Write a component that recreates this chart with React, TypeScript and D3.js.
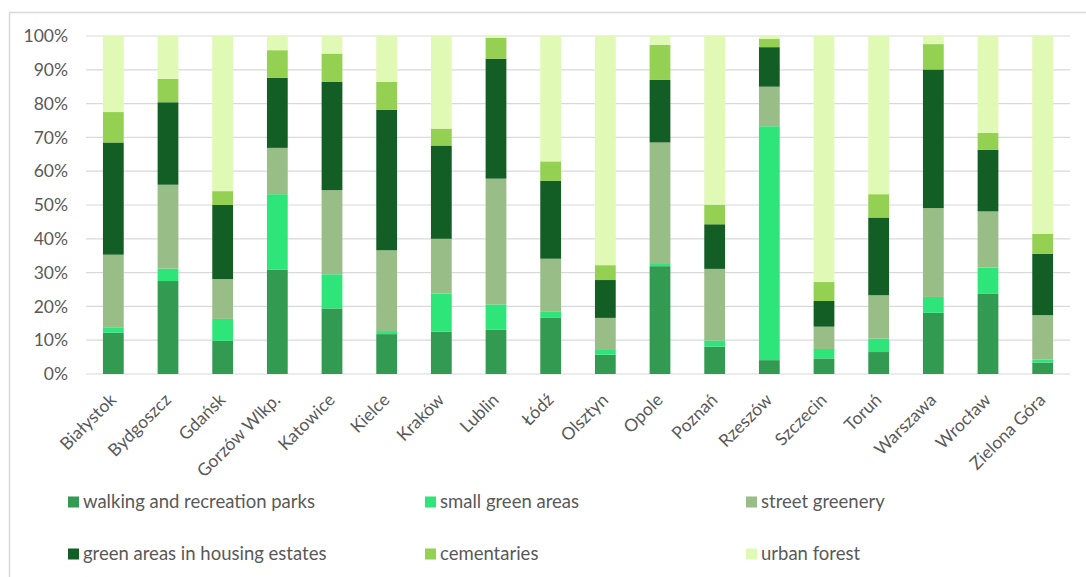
import React from "react";
import * as d3 from "d3";

const cities = ["Białystok","Bydgoszcz","Gdańsk","Gorzów Wlkp.","Katowice","Kielce","Kraków","Lublin","Łódź","Olsztyn","Opole","Poznań","Rzeszów","Szczecin","Toruń","Warszawa","Wrocław","Zielona Góra"];
const parks =   [12.2,27.5, 9.8,30.9,19.4,11.8,12.5,13.1,16.6, 5.7,31.9, 8.1, 4.1, 4.6, 6.5,18.1,23.7, 3.4];
const small =   [ 1.6, 3.7, 6.5,22.3,10.1, 0.9,11.3, 7.5, 1.8, 1.4, 0.9, 1.8,69.2, 2.8, 4.0, 4.7, 7.8, 0.9];
const street =  [21.5,24.8,11.8,13.7,24.9,23.9,16.2,37.2,15.7, 9.5,35.7,21.2,11.7, 6.6,12.8,26.3,16.6,13.1];
const housing = [33.2,24.4,21.9,20.7,32.0,41.6,27.6,35.5,23.1,11.2,18.5,13.2,11.7, 7.6,23.0,41.0,18.2,18.2];
const cemeteries=[9.0, 6.9, 4.1, 8.2, 8.4, 8.2, 5.0, 6.2, 5.7, 4.4,10.4, 5.8, 2.5, 5.6, 6.9, 7.5, 5.0, 5.9];
const forest =  [22.5,12.7,45.9, 4.2, 5.2,13.6,27.4, 0.5,37.1,67.8, 2.6,49.9, 0.8,72.8,46.8, 2.4,28.7,58.5];

const seriesNames = ["walking and recreation parks","small green areas","street greenery","green areas in housing estates","cementaries","urban forest"];
const seriesColors = ["#339a52","#2ee57a","#98bd86","#135e25","#94d051","#e0f9b5"];
const yTicks = [0,0.1,0.2,0.3,0.4,0.5,0.6,0.7,0.8,0.9,1.0];

const W = 1086, H = 577;
const left = 86, right = 1070, top = 36, bottom = 374;

export default function App() {
  const keys = ["p","s","st","h","c","f"];
  const arrays = [parks, small, street, housing, cemeteries, forest];
  const rows = cities.map((c, i) => {
    const o: any = { city: c };
    keys.forEach((k, j) => (o[k] = arrays[j][i]));
    return o;
  });
  const stacked = d3.stack().keys(keys).offset(d3.stackOffsetExpand)(rows);
  const x = d3.scaleBand().domain(cities).range([left, right]).paddingInner(0.62).paddingOuter(0.31);
  const y = d3.scaleLinear().domain([0, 1]).range([bottom, top]);
  const pct = d3.format(".0%");
  const font = "Lato, sans-serif";
  const legendCols = [68, 425, 746];
  const legendRows = [502, 554];

  return (
    <svg width={W} height={H} style={{ display: "block", margin: 0, position: "absolute", left: 0, top: 0 }}>
      <rect x={0} y={0} width={W} height={H} fill="#fff" />
      <rect x={9.5} y={12.5} width={W + 20} height={H + 20} fill="none" stroke="#d9d9d9" strokeWidth={1.5} />
      {yTicks.map((t) => (
        <g key={t}>
          <line x1={left} x2={right} y1={y(t)} y2={y(t)} stroke="#d9d9d9" strokeWidth={1.2} />
          <text x={68} y={y(t)} dy="0.35em" textAnchor="end" fontFamily={font} fontSize={17.5} fill="#595959">{pct(t)}</text>
        </g>
      ))}
      {stacked.map((s, si) => (
        <g key={si} fill={seriesColors[si]}>
          {s.map((d, i) => (
            <rect key={i} x={x(cities[i])} width={x.bandwidth()} y={y(d[1])} height={y(d[0]) - y(d[1])} />
          ))}
        </g>
      ))}
      {cities.map((c) => {
        const cx = (x(c) as number) + x.bandwidth() / 2 + 4;
        return (
          <text key={c} transform={`translate(${cx},${401}) rotate(-45)`} textAnchor="end" fontFamily={font} fontSize={17.5} fill="#595959">{c}</text>
        );
      })}
      {seriesNames.map((n, i) => {
        const lx = legendCols[i % 3];
        const ly = legendRows[Math.floor(i / 3)];
        return (
          <g key={n}>
            <rect x={lx} y={ly - 5.5} width={11} height={11} fill={seriesColors[i]} />
            <text x={lx + 15} y={ly} dy="0.35em" fontFamily={font} fontSize={18.5} fill="#595959">{n}</text>
          </g>
        );
      })}
    </svg>
  );
}
